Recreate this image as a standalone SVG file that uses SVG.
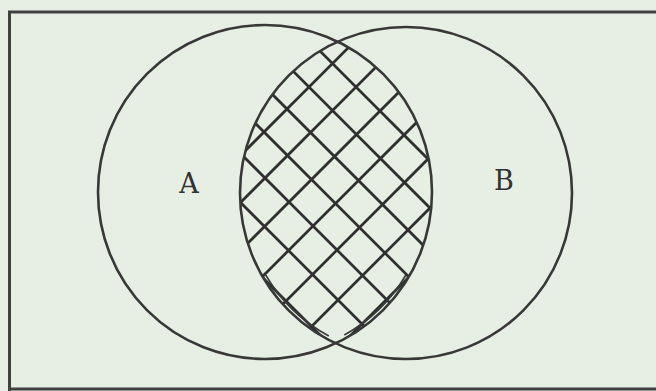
<svg xmlns="http://www.w3.org/2000/svg" width="656" height="391" viewBox="0 0 656 391">
<style>
.frame{fill:none;stroke:#404040;stroke-width:3}
.circ{fill:none;stroke:#383838;stroke-width:2.6}
.hatch line{stroke:#2f2f2f;stroke-width:2.7}
.inner{fill:none;stroke:#3a3a3a;stroke-width:1.6}
.lbl{font-family:"DejaVu Serif","Liberation Serif",serif;font-size:27px;fill:#333;text-anchor:middle}
</style>
<defs>
<clipPath id="clipA"><circle cx="265" cy="192" r="167"/></clipPath>
<clipPath id="clipB"><circle cx="406" cy="193" r="166"/></clipPath>
</defs>
<rect width="656" height="391" fill="#e7efe5"/>
<g id="frame">
<path class="frame" d="M656,12 L9.5,12 L9.5,391 M9.5,389 L656,389"/>
</g>
<g id="hatching" class="hatch">
<g clip-path="url(#clipA)"><g clip-path="url(#clipB)">
<line x1="396" y1="0" x2="-4" y2="400"/>
<line x1="443" y1="0" x2="43" y2="400"/>
<line x1="491" y1="0" x2="91" y2="400"/>
<line x1="539" y1="0" x2="139" y2="400"/>
<line x1="587" y1="0" x2="187" y2="400"/>
<line x1="638" y1="0" x2="238" y2="400"/>
<line x1="686" y1="0" x2="286" y2="400"/>
<line x1="-15" y1="0" x2="385" y2="400"/>
<line x1="38" y1="0" x2="438" y2="400"/>
<line x1="87" y1="0" x2="487" y2="400"/>
<line x1="132" y1="0" x2="532" y2="400"/>
<line x1="178" y1="0" x2="578" y2="400"/>
<line x1="222" y1="0" x2="622" y2="400"/>
<line x1="269" y1="0" x2="669" y2="400"/>
</g></g>
<path class="inner" d="M265.7,275 A162.5,162.5 0 0 0 328.8,336"/>
<path class="inner" d="M405.9,275 A163.5,163.5 0 0 1 344.3,335"/>
</g>
<g id="setA">
<circle class="circ" cx="265" cy="192" r="167"/>
<text class="lbl" x="189" y="193">A</text>
</g>
<g id="setB">
<circle class="circ" cx="406" cy="193" r="166"/>
<text class="lbl" x="504" y="190">B</text>
</g>
</svg>
